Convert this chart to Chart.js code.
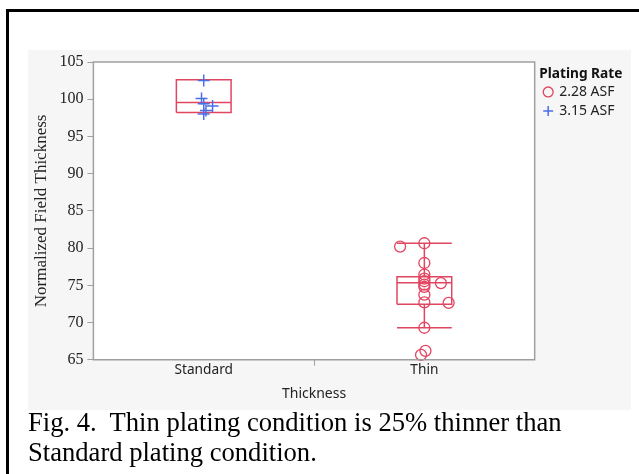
<!DOCTYPE html>
<html lang="en">
<head>
    <meta charset="UTF-8">
    <title>Normalized Field Thickness</title>
    <style>
        body { margin: 0; background: #fff; width: 639px; height: 474px; overflow: hidden; position: relative; }
        #frame { position: absolute; left: 6px; top: 9px; width: 700px; height: 600px; border: 3px solid #000; }
        #panel { position: absolute; left: 28px; top: 50px; width: 603px; height: 360px; background: #f6f6f6; }
        #caption { position: absolute; left: 28px; top: 407px; font-family: "Liberation Serif", serif; font-size: 26.6px; line-height: 30px; color: #000; white-space: nowrap; }
    </style>
</head>
<body>
    <div id="frame"></div>
    <div id="panel">
        <canvas id="myChart" width="603" height="360"></canvas>
    </div>
    <div id="caption">Fig. 4.&nbsp; Thin plating condition is 25% thinner than<br>Standard plating condition.</div>

    <script src="https://cdn.jsdelivr.net/npm/chart.js"></script>

    <script>
        // categories (x position of each group = index + 0.5)
        const groups = ['Standard', 'Thin'];

        // Standard group, 3.15 ASF (+ markers)
        const stdValues = [102.5, 100.1, 99.4, 99.1, 98.5, 98.0];
        const stdJitter = [0, -0.01, 0, 0.04, 0.01, 0];

        // Thin group, 2.28 ASF (o markers)
        const thinValues = [80.65, 80.2, 78.0, 76.45, 75.9, 75.55, 75.3, 75.1, 74.8, 73.75, 72.7, 72.65, 69.3, 66.2, 65.65];
        const thinJitter = [0, -0.11, 0, 0, 0, 0, 0.075, 0, 0, 0, 0, 0.11, 0, 0.005, -0.015];

        // box summaries per group
        const boxQ1 = [98.2, 72.45];
        const boxMedian = [99.55, 75.35];
        const boxQ3 = [102.6, 76.15];
        const whiskerLo = [98.2, 69.3];
        const whiskerHi = [102.6, 80.65];

        const yTicks = [65, 70, 75, 80, 85, 90, 95, 100, 105];

        const red = '#e24560';
        const blue = '#4a6fe6';
        const halfW = 0.124;

        function toPoints(values, jitter, g) {
            return values.map((v, i) => ({ x: g + 0.5 + jitter[i], y: v }));
        }

        // box outline + median + whiskers, broken with null gaps
        function boxPath(g) {
            const c = g + 0.5, l = c - halfW, r = c + halfW;
            const gap = { x: c, y: null };
            return [
                { x: l, y: boxQ1[g] }, { x: r, y: boxQ1[g] }, { x: r, y: boxQ3[g] }, { x: l, y: boxQ3[g] }, { x: l, y: boxQ1[g] }, gap,
                { x: l, y: boxMedian[g] }, { x: r, y: boxMedian[g] }, gap,
                { x: c, y: boxQ3[g] }, { x: c, y: whiskerHi[g] }, gap,
                { x: l, y: whiskerHi[g] }, { x: r, y: whiskerHi[g] }, gap,
                { x: c, y: boxQ1[g] }, { x: c, y: whiskerLo[g] }, gap,
                { x: l, y: whiskerLo[g] }, { x: r, y: whiskerLo[g] }
            ];
        }

        const plotFrame = {
            id: 'plotFrame',
            beforeDraw(chart) {
                const a = chart.chartArea, c = chart.ctx;
                c.save();
                c.fillStyle = '#fff';
                c.fillRect(a.left, a.top, a.right - a.left, a.bottom - a.top);
                c.restore();
            },
            afterDraw(chart) {
                const a = chart.chartArea, c = chart.ctx;
                c.save();
                c.strokeStyle = '#a0a0a0';
                c.lineWidth = 1.5;
                c.strokeRect(a.left, a.top, a.right - a.left, a.bottom - a.top);
                c.restore();
            }
        };

        const sans = '"Noto Sans", sans-serif';
        const serif = '"Liberation Serif", serif';

        new Chart(document.getElementById('myChart'), {
            type: 'scatter',
            data: {
                datasets: [
                    {
                        label: '2.28 ASF',
                        data: toPoints(thinValues, thinJitter, 1),
                        pointStyle: 'circle',
                        pointRadius: 5.5,
                        borderColor: red,
                        backgroundColor: 'rgba(0,0,0,0)',
                        borderWidth: 1.3,
                        clip: false
                    },
                    {
                        label: '3.15 ASF',
                        data: toPoints(stdValues, stdJitter, 0),
                        pointStyle: 'cross',
                        pointRadius: 6,
                        borderColor: blue,
                        backgroundColor: blue,
                        borderWidth: 1.5
                    },
                    {
                        label: 'box Standard',
                        data: boxPath(0),
                        showLine: true,
                        spanGaps: false,
                        pointRadius: 0,
                        borderColor: red,
                        borderWidth: 1.5
                    },
                    {
                        label: 'box Thin',
                        data: boxPath(1),
                        showLine: true,
                        spanGaps: false,
                        pointRadius: 0,
                        borderColor: red,
                        borderWidth: 1.5
                    }
                ]
            },
            options: {
                responsive: false,
                animation: false,
                layout: { padding: { top: 11.5, left: 3, right: 6.5, bottom: 7.5 } },
                plugins: {
                    tooltip: { enabled: false },
                    legend: {
                        position: 'right',
                        align: 'start',
                        title: {
                            display: true,
                            text: 'Plating Rate',
                            position: 'start',
                            color: '#111',
                            font: { family: sans, size: 13.7, weight: 'bold' },
                            padding: { top: 6, bottom: -4 }
                        },
                        labels: {
                            filter: item => item.datasetIndex < 2,
                            usePointStyle: true,
                            boxWidth: 8,
                            boxHeight: 7,
                            padding: 5,
                            color: '#222',
                            font: { family: sans, size: 14 }
                        }
                    }
                },
                scales: {
                    x: {
                        type: 'linear',
                        min: 0,
                        max: 2,
                        afterBuildTicks: axis => { axis.ticks = [0, 0.5, 1, 1.5, 2].map(v => ({ value: v })); },
                        ticks: {
                            autoSkip: false,
                            maxRotation: 0,
                            color: '#222',
                            font: { family: sans, size: 13.7 },
                            padding: -3.5,
                            callback: v => (v === 0.5 ? groups[0] : v === 1.5 ? groups[1] : '')
                        },
                        grid: {
                            drawOnChartArea: false,
                            tickLength: 6,
                            tickColor: ctx => (ctx.tick && ctx.tick.value === 1 ? '#a0a0a0' : 'rgba(0,0,0,0)')
                        },
                        border: { color: '#a0a0a0' },
                        title: {
                            display: true,
                            text: 'Thickness',
                            color: '#222',
                            font: { family: sans, size: 14 },
                            padding: { top: 10.5, bottom: 0 }
                        }
                    },
                    y: {
                        min: 65,
                        max: 105,
                        afterBuildTicks: axis => { axis.ticks = yTicks.map(v => ({ value: v })); },
                        ticks: {
                            color: '#222',
                            font: { family: serif, size: 16, lineHeight: 1 },
                            padding: 4
                        },
                        grid: {
                            drawOnChartArea: false,
                            tickLength: 6,
                            tickColor: '#a0a0a0'
                        },
                        border: { color: '#a0a0a0' },
                        title: {
                            display: true,
                            text: 'Normalized Field Thickness',
                            color: '#222',
                            font: { family: serif, size: 17 },
                            padding: { top: 0, bottom: 4 }
                        }
                    },
                    // empty spacer between the plot frame and the legend
                    gap: {
                        type: 'linear',
                        position: 'right',
                        display: true,
                        ticks: { display: false },
                        grid: { display: false },
                        border: { display: false },
                        afterFit: axis => { axis.width = 4.5; }
                    }
                }
            },
            plugins: [plotFrame]
        });
    </script>
</body>
</html>
